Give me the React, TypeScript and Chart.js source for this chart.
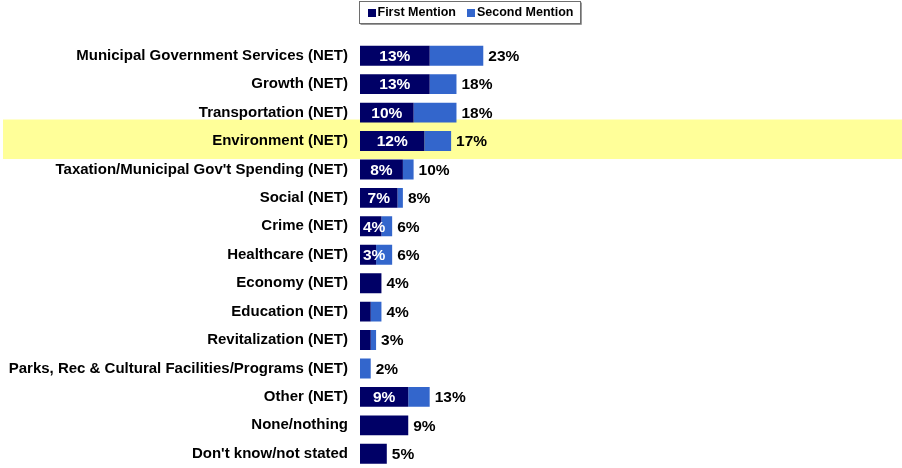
import React, { useEffect, useRef } from "react";
import { Chart, registerables } from "chart.js";

Chart.register(...registerables);

const categories = [
  "Municipal Government Services (NET)",
  "Growth (NET)",
  "Transportation (NET)",
  "Environment (NET)",
  "Taxation/Municipal Gov't Spending (NET)",
  "Social (NET)",
  "Crime (NET)",
  "Healthcare (NET)",
  "Economy (NET)",
  "Education (NET)",
  "Revitalization (NET)",
  "Parks, Rec & Cultural Facilities/Programs (NET)",
  "Other (NET)",
  "None/nothing",
  "Don't know/not stated",
];
const firstMention = [13, 13, 10, 12, 8, 7, 4, 3, 4, 2, 2, 0, 9, 9, 5];
const secondMention = [10, 5, 8, 5, 2, 1, 2, 3, 0, 2, 1, 2, 4, 0, 0];
const firstLabels = ["13%", "13%", "10%", "12%", "8%", "7%", "4%", "3%", "", "", "", "", "9%", "", ""];
const totalLabels = ["23%", "18%", "18%", "17%", "10%", "8%", "6%", "6%", "4%", "4%", "3%", "2%", "13%", "9%", "5%"];
const highlightIndex = 3;
const seriesNames = ["First Mention", "Second Mention"];
const seriesColors = ["#000066", "#3366CC"];

const FONT = "Arial, 'Liberation Sans', Helvetica, sans-serif";

const highlightPlugin = {
  id: "highlightBand",
  beforeDraw(chart: any) {
    const ctx = chart.ctx;
    const y = chart.scales.y.getPixelForValue(highlightIndex);
    ctx.save();
    ctx.fillStyle = "#FFFF99";
    ctx.fillRect(3, y - 21.5, chart.width - 3, 39.5);
    ctx.restore();
  },
};

const labelsPlugin = {
  id: "valueLabels",
  afterDatasetsDraw(chart: any) {
    const ctx = chart.ctx;
    const m0 = chart.getDatasetMeta(0);
    const m1 = chart.getDatasetMeta(1);
    ctx.save();
    ctx.font = `bold 15.5px ${FONT}`;
    ctx.textBaseline = "middle";
    categories.forEach((_, i) => {
      const b0 = m0.data[i];
      const b1 = m1.data[i];
      if (firstLabels[i]) {
        const w = ctx.measureText(firstLabels[i]).width;
        const cx = Math.max((b0.base + b0.x) / 2, b0.base + 3 + w / 2);
        ctx.fillStyle = "#FFFFFF";
        ctx.textAlign = "center";
        ctx.fillText(firstLabels[i], cx, b0.y + 1);
      }
      const end = Math.max(b0.x, b1.x);
      ctx.fillStyle = "#000000";
      ctx.textAlign = "left";
      ctx.fillText(totalLabels[i], end + 5, b1.y + 1);
    });
    ctx.restore();
  },
};

const legendPlugin = {
  id: "boxLegend",
  afterDraw(chart: any) {
    const ctx = chart.ctx;
    ctx.save();
    ctx.font = `bold 12.5px ${FONT}`;
    ctx.textBaseline = "middle";
    const sq = 8;
    const padL = 8;
    const padR = 7;
    const gapSqText = 2;
    const gapItems = 11;
    const widths = seriesNames.map((n) => ctx.measureText(n).width);
    let total = padL + padR;
    widths.forEach((w, i) => {
      total += sq + gapSqText + w + (i < widths.length - 1 ? gapItems : 0);
    });
    const cx = 469.5;
    const left = Math.round(cx - total / 2) + 0.5;
    const top = 1.5;
    const h = 22;
    ctx.fillStyle = "#FFFFFF";
    ctx.fillRect(left, top, total, h);
    ctx.strokeStyle = "#6E6E6E";
    ctx.lineWidth = 1;
    ctx.strokeRect(left, top, total, h);
    ctx.strokeStyle = "#9A9A9A";
    ctx.beginPath();
    ctx.moveTo(left + 1, top + h + 1);
    ctx.lineTo(left + total + 1, top + h + 1);
    ctx.lineTo(left + total + 1, top + 1);
    ctx.stroke();
    let x = left + padL;
    const cy = top + h / 2 + 0.5;
    seriesNames.forEach((n, i) => {
      ctx.fillStyle = seriesColors[i];
      ctx.fillRect(Math.round(x), Math.round(cy - sq / 2), sq, sq);
      x += sq + gapSqText;
      ctx.fillStyle = "#000000";
      ctx.textAlign = "left";
      ctx.fillText(n, x, cy);
      x += widths[i] + gapItems;
    });
    ctx.restore();
  },
};

export default function App() {
  const canvasRef = useRef<HTMLCanvasElement | null>(null);

  useEffect(() => {
    if (!canvasRef.current) return;
    const chart = new Chart(canvasRef.current, {
      type: "bar",
      data: {
        labels: categories,
        datasets: [
          {
            label: seriesNames[0],
            data: firstMention,
            backgroundColor: seriesColors[0],
            borderWidth: 0,
            barPercentage: 0.7,
            categoryPercentage: 1,
          },
          {
            label: seriesNames[1],
            data: secondMention,
            backgroundColor: seriesColors[1],
            borderWidth: 0,
            barPercentage: 0.7,
            categoryPercentage: 1,
          },
        ],
      },
      options: {
        indexAxis: "y",
        responsive: false,
        animation: false,
        devicePixelRatio: 1,
        layout: { padding: { top: 41.5, bottom: 0, left: 0, right: 6 } },
        plugins: {
          legend: { display: false },
          tooltip: { enabled: false },
        },
        scales: {
          x: {
            stacked: true,
            display: false,
            min: 0,
            max: 100,
          },
          y: {
            stacked: true,
            grid: { display: false, drawTicks: false },
            border: { display: false },
            ticks: {
              color: "#000000",
              padding: 12,
              font: { family: FONT, size: 15, weight: "bold" },
            },
            afterFit: (scale: any) => {
              scale.width = 360;
              scale.paddingTop = 0;
              scale.paddingBottom = 0;
            },
          },
        },
      },
      plugins: [highlightPlugin, labelsPlugin, legendPlugin],
    } as any);
    return () => chart.destroy();
  }, []);

  return (
    <div style={{ position: "absolute", left: 0, top: 0, width: 902, height: 468, background: "#FFFFFF" }}>
      <canvas ref={canvasRef} width={902} height={468} style={{ display: "block" }} />
    </div>
  );
}
